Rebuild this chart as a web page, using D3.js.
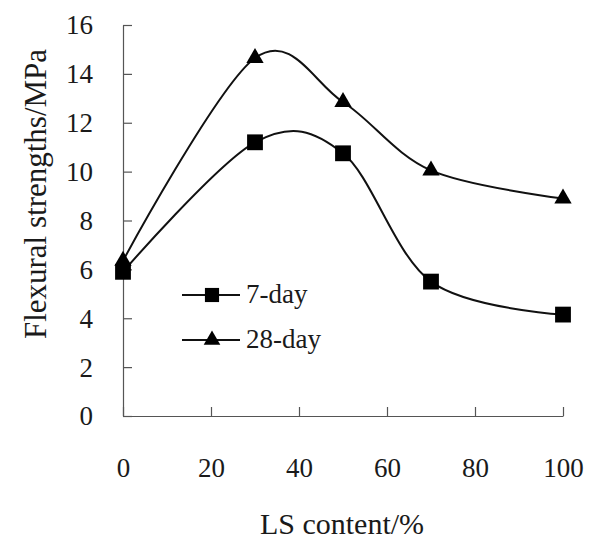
<!DOCTYPE html>
<html>
<head>
<meta charset="utf-8">
<script src="https://cdn.jsdelivr.net/npm/d3@7"></script>
<style>
  body { margin: 0; background: #fff; }
</style>
</head>
<body>
<svg id="chart" width="595" height="542"></svg>
<script>
// data
const lsContent = [0, 30, 50, 70, 100];
const day7 = [5.9, 11.2, 10.75, 5.5, 4.15];
const day28 = [6.35, 14.65, 12.85, 10.05, 8.9];
const xTicks = [0, 20, 40, 60, 80, 100];
const yTicks = [0, 2, 4, 6, 8, 10, 12, 14, 16];

const serif = "Liberation Serif";
const margin = { top: 25, right: 32, bottom: 126, left: 123 };
const svg = d3.select("#chart");
const width = +svg.attr("width") - margin.left - margin.right;
const height = +svg.attr("height") - margin.top - margin.bottom;

const g = svg.append("g").attr("transform", `translate(${margin.left},${margin.top})`);

const x = d3.scaleLinear().domain([0, 100]).range([0, width]);
const y = d3.scaleLinear().domain([0, 16]).range([height, 0]);

// Y axis, ticks pointing inward
const yAxis = g.append("g")
  .call(d3.axisLeft(y).tickValues(yTicks).tickSizeInner(-9).tickSizeOuter(0).tickPadding(30));
// X axis
const xAxis = g.append("g")
  .attr("transform", `translate(0,${height})`)
  .call(d3.axisBottom(x).tickValues(xTicks).tickSizeInner(-9).tickSizeOuter(0).tickPadding(42));

[yAxis, xAxis].forEach((ax) => {
  ax.attr("font-family", serif).attr("font-size", 27);
  ax.select(".domain").attr("stroke", "#555").attr("stroke-width", 1.2);
  ax.selectAll(".tick line").attr("stroke", "#555").attr("stroke-width", 1.2);
  ax.selectAll(".tick text")
    .attr("fill", "#1a1a1a")
    .style("font-family", serif)
    .style("font-size", "27px");
});
yAxis.selectAll(".tick text").attr("dy", "0.33em");

// Titles
svg.append("text")
  .attr("text-anchor", "middle")
  .attr("transform", "translate(46,194) rotate(-90)")
  .style("font-family", serif)
  .style("font-size", "31px")
  .attr("fill", "#1a1a1a")
  .text("Flexural strengths/MPa");

svg.append("text")
  .attr("text-anchor", "middle")
  .attr("x", 342)
  .attr("y", 534)
  .style("font-family", serif)
  .style("font-size", "30px")
  .attr("fill", "#1a1a1a")
  .text("LS content/%");

// Curves
const line = d3.line()
  .curve(d3.curveCardinal.tension(0))
  .x((d) => x(d[0]))
  .y((d) => y(d[1]));

const series = [
  { name: "7-day", values: day7, shape: d3.symbolSquare },
  { name: "28-day", values: day28, shape: d3.symbolTriangle },
];

series.forEach((s) => {
  const pts = lsContent.map((c, i) => [c, s.values[i]]);
  g.append("path")
    .attr("d", line(pts))
    .attr("fill", "none")
    .attr("stroke", "#111")
    .attr("stroke-width", 2);

  g.selectAll(null)
    .data(pts)
    .enter()
    .append("path")
    .attr("d", d3.symbol().type(s.shape).size(s.shape === d3.symbolSquare ? 250 : 130))
    .attr("transform", (d) => `translate(${x(d[0])},${y(d[1])})`)
    .attr("fill", "#000");
});

// Legend
const legend = svg.append("g");
series.forEach((s, i) => {
  const ly = 295 + i * 45;
  legend.append("line")
    .attr("x1", 182).attr("x2", 240)
    .attr("y1", ly).attr("y2", ly)
    .attr("stroke", "#111").attr("stroke-width", 2);
  legend.append("path")
    .attr("d", d3.symbol().type(s.shape).size(s.shape === d3.symbolSquare ? 200 : 120))
    .attr("transform", `translate(212,${ly})`)
    .attr("fill", "#000");
  legend.append("text")
    .attr("x", 246)
    .attr("y", ly + 8)
    .style("font-family", serif)
    .style("font-size", "27px")
    .attr("fill", "#1a1a1a")
    .text(s.name);
});
</script>
</body>
</html>
